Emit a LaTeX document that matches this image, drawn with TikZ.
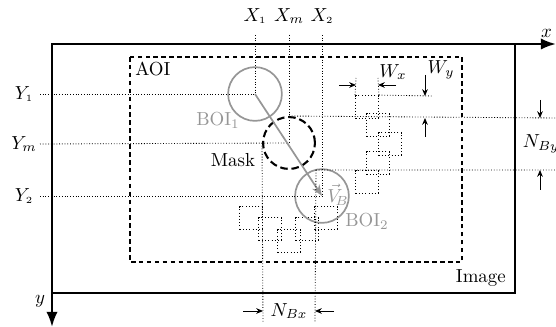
\documentclass[tikz,border=0pt]{standalone}
\usetikzlibrary{arrows.meta,positioning}
\definecolor{boigray}{RGB}{150,150,150}
\tikzset{
  >={Stealth[length=3.6pt,width=3pt]},
  frame/.style={line width=1.3pt},
  axis/.style={frame,-{Latex[length=8pt,width=6pt]}},
  aoi/.style={thick,dash pattern=on 2.4pt off 1.8pt},
  guide/.style={densely dotted,line width=0.45pt},
  win/.style={draw,dash pattern=on 0.6pt off 1.1pt,line width=0.6pt,minimum size=12pt,inner sep=0pt},
  boi/.style={circle,draw=boigray,line width=0.9pt,minimum size=28.5pt,inner sep=0pt},
  mask/.style={circle,draw,line width=1.1pt,dash pattern=on 4pt off 2pt,minimum size=27.5pt,inner sep=0pt},
  dim/.style={->,line width=0.45pt},
  lbl/.style={inner sep=1pt},
  gray lbl/.style={lbl,text=boigray},
}
\begin{document}
\begin{tikzpicture}[x=0.53pt,y=-0.53pt]
  \useasboundingbox (0,0) rectangle (556,327);
  % image with its axes
  \coordinate (o) at (52,44);
  \coordinate (xend) at (556,44);
  \coordinate (yend) at (52,327);
  \draw[frame] (o) rectangle (515,293);
  \draw[axis] (o) -- (xend);
  \draw[axis] (o) -- (yend);
  \node[lbl,above left=2pt and 1pt of xend] (xlab) {$x$};
  \node[lbl] (ylab) at (40,301) {$y$};
  \node[lbl,anchor=south east] (img) at (508,289) {Image};
  % area of interest
  \draw[aoi] (130,57) rectangle (462,262);
  \node[lbl,anchor=north west] (aoilab) at (133,60) {AOI};
  % windows
  \foreach \i/\x/\y in {a/367/107,b/378/125,c/390/144,d/378/163,e/367/182,
                        f/326/218,g/307/229,h/289/241,i/270/229,j/251/218}
    \node[win] (w\i) at (\x,\y) {};
  % blocks and mask
  \node[boi] (boi1) at (255,94) {};
  \node[mask] (mask) at (289,143) {};
  \node[boi] (boi2) at (322,196) {};
  \node[gray lbl] (boi1lab) at (218,120) {BOI$_1$};
  \node[gray lbl] (boi2lab) at (367,221) {BOI$_2$};
  \node[lbl] (masklab) at (233,160) {Mask};
  % guide lines to the centres
  \foreach \n/\c/\x/\t in {x1/boi1/255/{X_{\scriptscriptstyle 1}},xm/mask/289/{X_m},x2/boi2/322/{X_{\scriptscriptstyle 2}}}{
    \node[lbl] (\n) at (\x,16) {$\t$};
    \coordinate (\n t) at (\x,35);
    \draw[guide] (\n t) -- (\c.center);
  }
  \foreach \n/\c/\y/\t in {y1/boi1/94/{Y_{\scriptscriptstyle 1}},ym/mask/144/{Y_m},y2/boi2/196/{Y_{\scriptscriptstyle 2}}}{
    \node[lbl] (\n) at (24,\y) {$\t$};
    \coordinate (\n t) at (40,\y);
    \draw[guide] (\n t) -- (\c.center);
  }
  % motion vector
  \draw[->,boigray,line width=0.9pt,>={Stealth[length=6pt,width=4.5pt]}] (boi1.center) -- (boi2.center);
  \node[gray lbl] (vlab) at (338,195) {$\vec{V}_{\!B}$};
  % mask size
  \coordinate (mse) at (mask.east |- mask.south);
  \coordinate (nbxl) at (263,323);
  \coordinate (nbxr) at (315,323);
  \coordinate (nbyt) at (556,118);
  \coordinate (nbyb) at (556,170);
  \draw[guide] (mask.west) -- (nbxl);
  \draw[guide] (mse) -- (nbxr);
  \draw[guide] (mask.north) -- (nbyt);
  \draw[guide] (mse) -- (nbyb);
  \draw[dim] (243,311) -- (263,311);
  \draw[dim] (334,311) -- (315,311);
  \node[lbl] (nbx) at (289,311) {$N_{Bx}$};
  \draw[dim] (540,100) -- (540,118);
  \draw[dim] (540,190) -- (540,170);
  \node[lbl] (nby) at (541,144) {$N_{By}$};
  % window size
  \coordinate (wxl) at (356,78);
  \coordinate (wxr) at (378,78);
  \coordinate (wyr) at (433,96);
  \draw[guide] (wa.north west) -- (wxl);
  \draw[guide] (wa.north east) -- (wxr);
  \draw[guide] (wa.north east) -- (wyr);
  \draw[dim] (339,85) -- (356,85);
  \draw[dim] (396,85) -- (378,85);
  \node[lbl] (wx) at (393,72) {$W_x$};
  \draw[dim] (425,75) -- (425,96);
  \draw[dim] (425,137) -- (425,118);
  \node[lbl] (wy) at (441,70) {$W_y$};
\end{tikzpicture}
\end{document}
